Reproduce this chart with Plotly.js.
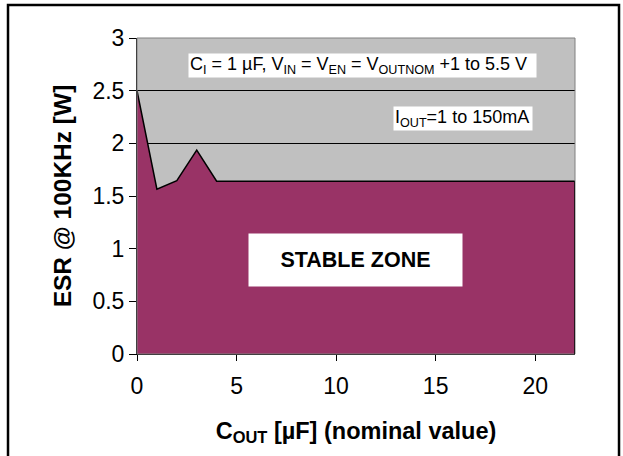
<!DOCTYPE html>
<html>
<head>
<meta charset="utf-8">
<script src="https://cdn.plot.ly/plotly-3.0.1.min.js"></script>
<style>html,body{margin:0;padding:0;background:#fff;}</style>
</head>
<body>
<div id="chart" style="width:623px;height:456px;"></div>
<script>
// Data
const coutValues = [0, 1, 2, 3, 4, 5, 10, 15, 20, 22];
const esrValues  = [2.5, 1.565, 1.645, 1.935, 1.64, 1.64, 1.64, 1.64, 1.64, 1.64];
const xTickValues = [0, 5, 10, 15, 20];
const yTickValues = [0, 0.5, 1, 1.5, 2, 2.5, 3];
const yTickLabels = ['0', '0.5', '1', '1.5', '2', '2.5', '3'];
const conditionText1 = 'C<sub>I</sub> = 1 µF, V<sub>IN</sub> = V<sub>EN</sub> = V<sub>OUTNOM</sub> +1 to 5.5 V';
const conditionText2 = 'I<sub>OUT</sub>=1 to 150mA';
const zoneText = '<b>STABLE ZONE</b>';

const font = 'Arial, "Liberation Sans", sans-serif';
const lastX = coutValues[coutValues.length - 1];
const lastY = esrValues[esrValues.length - 1];

const trace = {
  x: coutValues,
  y: esrValues,
  type: 'scatter',
  mode: 'lines',
  fill: 'tozeroy',
  fillcolor: '#993366',
  line: {color: '#000000', width: 1.5},
  hoverinfo: 'skip'
};

const layout = {
  width: 623,
  height: 456,
  margin: {l: 137, r: 48, t: 38, b: 102},
  paper_bgcolor: '#ffffff',
  plot_bgcolor: '#c0c0c0',
  showlegend: false,
  font: {family: font, color: '#000000', size: 23},
  xaxis: {
    range: [0, 22],
    tickvals: xTickValues,
    showgrid: false,
    zeroline: false,
    showline: true,
    linecolor: '#000000',
    linewidth: 1,
    ticks: 'outside',
    ticklen: 6,
    tickcolor: '#000000',
    ticklabelstandoff: 5,
    tickfont: {family: font, size: 23},
    title: {text: '<b>C<sub>OUT</sub> [µF] (nominal value)</b>', font: {family: font, size: 23.5}, standoff: 24}
  },
  yaxis: {
    range: [0, 3],
    tickvals: yTickValues,
    ticktext: yTickLabels,
    showgrid: true,
    gridcolor: '#000000',
    gridwidth: 1,
    zeroline: false,
    showline: true,
    linecolor: '#000000',
    linewidth: 1,
    ticks: 'outside',
    ticklen: 7,
    tickcolor: '#000000',
    tickfont: {family: font, size: 23},
    title: {text: '<b>ESR @ 100KHz [W]</b>', font: {family: font, size: 24.5}, standoff: 13}
  },
  shapes: [
    {type: 'rect', xref: 'paper', yref: 'paper', x0: 0, x1: 1, y0: 0, y1: 1,
     line: {color: '#808080', width: 1}, layer: 'above'},
    {type: 'line', xref: 'x', yref: 'y', x0: lastX, x1: lastX, y0: 0, y1: lastY,
     line: {color: '#000000', width: 1.5}, layer: 'above'},
    {type: 'rect', xref: 'paper', yref: 'paper',
     x0: -0.2945, x1: 1.1005, y0: -0.34, y1: 1.1044,
     line: {color: '#000000', width: 2.5}, layer: 'above'}
  ],
  annotations: [
    {x: 11.33, y: 2.739, xref: 'x', yref: 'y', text: conditionText1, showarrow: false,
     bgcolor: '#ffffff', width: 345, height: 21, borderpad: 1, align: 'left',
     font: {family: font, size: 18, color: '#000000'}},
    {x: 16.37, y: 2.236, xref: 'x', yref: 'y', text: conditionText2, showarrow: false,
     bgcolor: '#ffffff', width: 136, height: 21, borderpad: 1, align: 'left',
     font: {family: font, size: 18, color: '#000000'}},
    {x: 10.97, y: 0.892, xref: 'x', yref: 'y', text: zoneText, showarrow: false,
     bgcolor: '#ffffff', width: 211, height: 50, borderpad: 1, align: 'center',
     font: {family: font, size: 21.5, color: '#000000'}}
  ]
};

Plotly.newPlot('chart', [trace], layout, {displayModeBar: false, staticPlot: true});
</script>
</body>
</html>
